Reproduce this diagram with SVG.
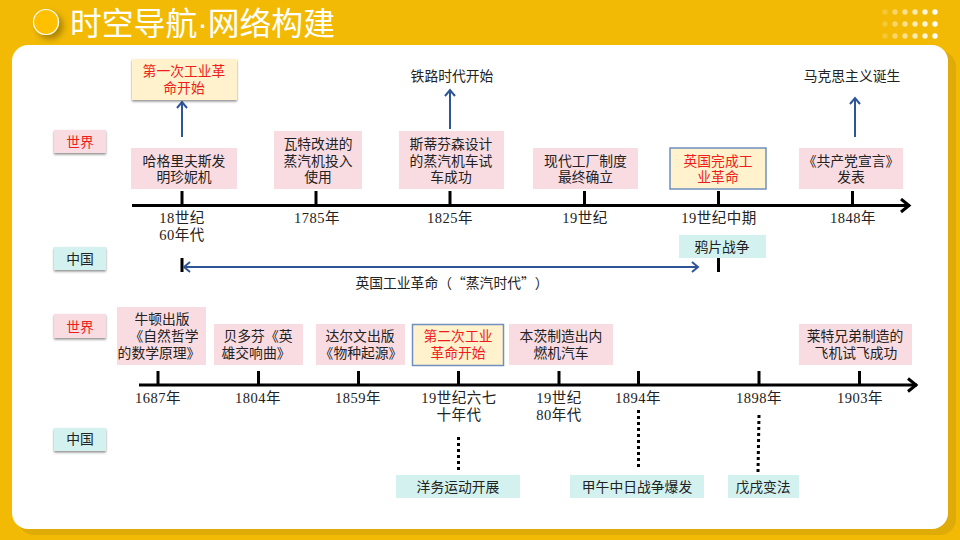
<svg xmlns="http://www.w3.org/2000/svg" width="960" height="540" viewBox="0 0 960 540">
<style>
text{font-family:"Liberation Serif","Noto Sans CJK SC",serif;font-size:13.8px;fill:#222;text-anchor:middle}
.red{fill:#f01c1c}
.cjk{font-family:"Noto Sans CJK SC",sans-serif;text-spacing-trim:space-all;font-feature-settings:"chws" 0,"palt" 0}
.yr{font-size:14.5px;letter-spacing:.5px}
.title{font-family:"Liberation Sans","Noto Sans CJK SC",sans-serif;font-size:31.8px;fill:#fff;text-anchor:start}
.pink{fill:#f9dce1}
.teal{fill:#d3f2ef}
.yel{fill:#fff2cc}
.edge{stroke:#6f8fbf;stroke-width:1.5}
.axis{stroke:#000;stroke-width:3;fill:none}
.blue{stroke:#2f5597;stroke-width:2;fill:none}
.dot{stroke:#000;stroke-width:3;stroke-dasharray:3 3;fill:none}
.d{fill:#fff}
</style>
<defs>
<filter id="sh" x="-20%" y="-20%" width="140%" height="150%"><feDropShadow dx="0" dy="1.5" stdDeviation="1" flood-color="#000" flood-opacity=".45"/></filter>
<filter id="ts" x="-50%" y="-50%" width="200%" height="200%"><feDropShadow dx="4" dy="4" stdDeviation="3" flood-color="#000" flood-opacity=".3"/></filter>
<marker id="ak" markerUnits="userSpaceOnUse" markerWidth="16" markerHeight="16" refX="13" refY="8" orient="auto"><path d="M4 1.5L12 8L4 14.5" fill="none" stroke="#000" stroke-width="3"/></marker>
<marker id="ab" markerUnits="userSpaceOnUse" markerWidth="14" markerHeight="14" refX="11" refY="7" orient="auto-start-reverse"><path d="M5 2L11 7L5 12" fill="none" stroke="#2f5597" stroke-width="2"/></marker>
</defs>
<rect width="960" height="540" fill="#f2ba05"/>
<rect x="18" y="51" width="938" height="484" rx="16" fill="#dfab08"/>
<rect x="12" y="45" width="936" height="484" rx="16" fill="#fff"/>
<g id="title">
<circle cx="46" cy="22" r="12.5" fill="#ffc000" stroke="#fff" stroke-width="1.2" filter="url(#ts)"/>
<text class="title" x="70" y="35">时空导航·网络构建</text>
</g>
<g id="dots" class="d">
<g opacity=".2"><circle cx="885" cy="12" r="2.7"/><circle cx="885" cy="24" r="2.7"/><circle cx="885" cy="36" r="2.7"/></g>
<g opacity=".4"><circle cx="895" cy="12" r="2.7"/><circle cx="895" cy="24" r="2.7"/><circle cx="895" cy="36" r="2.7"/></g>
<g opacity=".55"><circle cx="905" cy="12" r="2.7"/><circle cx="905" cy="24" r="2.7"/><circle cx="905" cy="36" r="2.7"/></g>
<g opacity=".7"><circle cx="915" cy="12" r="2.7"/><circle cx="915" cy="24" r="2.7"/><circle cx="915" cy="36" r="2.7"/></g>
<g opacity=".85"><circle cx="925" cy="12" r="2.7"/><circle cx="925" cy="24" r="2.7"/><circle cx="925" cy="36" r="2.7"/></g>
<g><circle cx="935" cy="12" r="2.7"/><circle cx="935" cy="24" r="2.7"/><circle cx="935" cy="36" r="2.7"/></g>
</g>
<g id="connectors">
<path class="axis" d="M132 205.500H910" marker-end="url(#ak)"/>
<path class="axis" d="M182 191V205M316 191V205M450 191V205M584.500 191V205M718.500 191V205M852.500 191V205"/>
<path class="axis" d="M139 385H917" marker-end="url(#ak)"/>
<path class="axis" d="M158 371V385M258.500 371V385M358.500 371V385M458.500 371V385M559 371V385M638.500 371V385M759 371V385M859.500 371V385"/>
<path class="axis" d="M182 258V272M718.500 258V272"/>
<path class="blue" d="M182 137V102" marker-end="url(#ab)"/>
<path class="blue" d="M450 129V90" marker-end="url(#ab)"/>
<path class="blue" d="M855 137V98" marker-end="url(#ab)"/>
<path class="blue" d="M184 267H698" marker-start="url(#ab)" marker-end="url(#ab)"/>
<path class="dot" d="M458.500 437V470"/>
<path class="dot" d="M638.500 410V467"/>
<path class="dot" d="M759 415L758 472"/>
</g>
<g id="world1"><rect class="pink" x="54" y="130" width="52" height="23" filter="url(#sh)"/><text class="red" x="80" y="147">世界</text></g>
<g id="china1"><rect class="teal" x="54" y="247" width="52" height="23" filter="url(#sh)"/><text x="80" y="264">中国</text></g>
<g id="world2"><rect class="pink" x="54" y="314" width="52" height="24" filter="url(#sh)"/><text class="red" x="80" y="332">世界</text></g>
<g id="china2"><rect class="teal" x="54" y="428" width="52" height="23" filter="url(#sh)"/><text x="80" y="444">中国</text></g>
<g id="ind1"><rect class="yel" x="132" y="59" width="105" height="41" filter="url(#sh)"/><text class="red" x="184" y="76">第一次工业革</text><text class="red" x="184" y="93">命开始</text></g>
<g id="e1"><rect class="pink" x="131" y="148" width="106" height="41"/><text x="184" y="165.500">哈格里夫斯发</text><text x="184" y="182">明珍妮机</text></g>
<g id="e2"><rect class="pink" x="274" y="131" width="88" height="58"/><text x="318" y="148.500">瓦特改进的</text><text x="318" y="165.500">蒸汽机投入</text><text x="318" y="182">使用</text></g>
<g id="e3"><rect class="pink" x="399" y="131" width="105" height="58"/><text x="451" y="148.500">斯蒂芬森设计</text><text x="451" y="165.500">的蒸汽机车试</text><text x="451" y="182">车成功</text></g>
<g id="e4"><rect class="pink" x="533" y="148" width="105" height="41"/><text x="585.500" y="165.500">现代工厂制度</text><text x="585.500" y="182">最终确立</text></g>
<g id="e5"><rect class="yel edge" x="670" y="148" width="96" height="41"/><text class="red" x="718" y="165.500">英国完成工</text><text class="red" x="718" y="182">业革命</text></g>
<g id="e6"><rect class="pink" x="799" y="148" width="104" height="41"/><text x="851" y="165.500">《共产党宣言》</text><text x="851" y="182">发表</text></g>
<g id="rail"><text x="452" y="81">铁路时代开始</text></g>
<g id="marx"><text x="852" y="81">马克思主义诞生</text></g>
<g id="y1"><text class="yr" x="182" y="223">18世纪</text><text class="yr" x="182" y="240">60年代</text><text class="yr" x="317" y="223">1785年</text><text class="yr" x="450" y="223">1825年</text><text class="yr" x="585" y="223">19世纪</text><text class="yr" x="719" y="223">19世纪中期</text><text class="yr" x="853" y="223">1848年</text></g>
<g id="opium"><rect class="teal" x="679" y="235" width="87" height="23"/><text x="722" y="252">鸦片战争</text></g>
<g id="steam"><text class="cjk" x="452" y="288">英国工业革命（“蒸汽时代”）</text></g>
<g id="n1"><rect class="pink" x="117" y="307" width="89" height="58"/><text x="162" y="324">牛顿出版</text><text x="164" y="341">《自然哲学</text><text x="159" y="358">的数学原理》</text></g>
<g id="n2"><rect class="pink" x="214" y="324" width="89" height="41"/><text x="258" y="341">贝多芬《英</text><text x="256" y="358">雄交响曲》</text></g>
<g id="n3"><rect class="pink" x="316" y="324" width="89" height="41"/><text x="360" y="341">达尔文出版</text><text x="361" y="358">《物种起源》</text></g>
<g id="n4"><rect class="yel edge" x="412.500" y="324.500" width="91" height="41"/><text class="red" x="458" y="341">第二次工业</text><text class="red" x="458" y="358">革命开始</text></g>
<g id="n5"><rect class="pink" x="509" y="324" width="104" height="41"/><text x="561" y="341">本茨制造出内</text><text x="561" y="358">燃机汽车</text></g>
<g id="n6"><rect class="pink" x="799" y="324" width="113" height="41"/><text x="855" y="341">莱特兄弟制造的</text><text x="856" y="358">飞机试飞成功</text></g>
<g id="y2"><text class="yr" x="158" y="403">1687年</text><text class="yr" x="258" y="403">1804年</text><text class="yr" x="358" y="403">1859年</text><text class="yr" x="459" y="403">19世纪六七</text><text class="yr" x="459" y="420">十年代</text><text class="yr" x="559" y="403">19世纪</text><text class="yr" x="559" y="420">80年代</text><text class="yr" x="638" y="403">1894年</text><text class="yr" x="759" y="403">1898年</text><text class="yr" x="860" y="403">1903年</text></g>
<g id="c1"><rect class="teal" x="396" y="475" width="124" height="23"/><text x="458" y="492">洋务运动开展</text></g>
<g id="c2"><rect class="teal" x="570" y="475" width="134" height="23"/><text x="637" y="492">甲午中日战争爆发</text></g>
<g id="c3"><rect class="teal" x="728" y="475" width="71" height="23"/><text x="763" y="492">戊戌变法</text></g>
</svg>
